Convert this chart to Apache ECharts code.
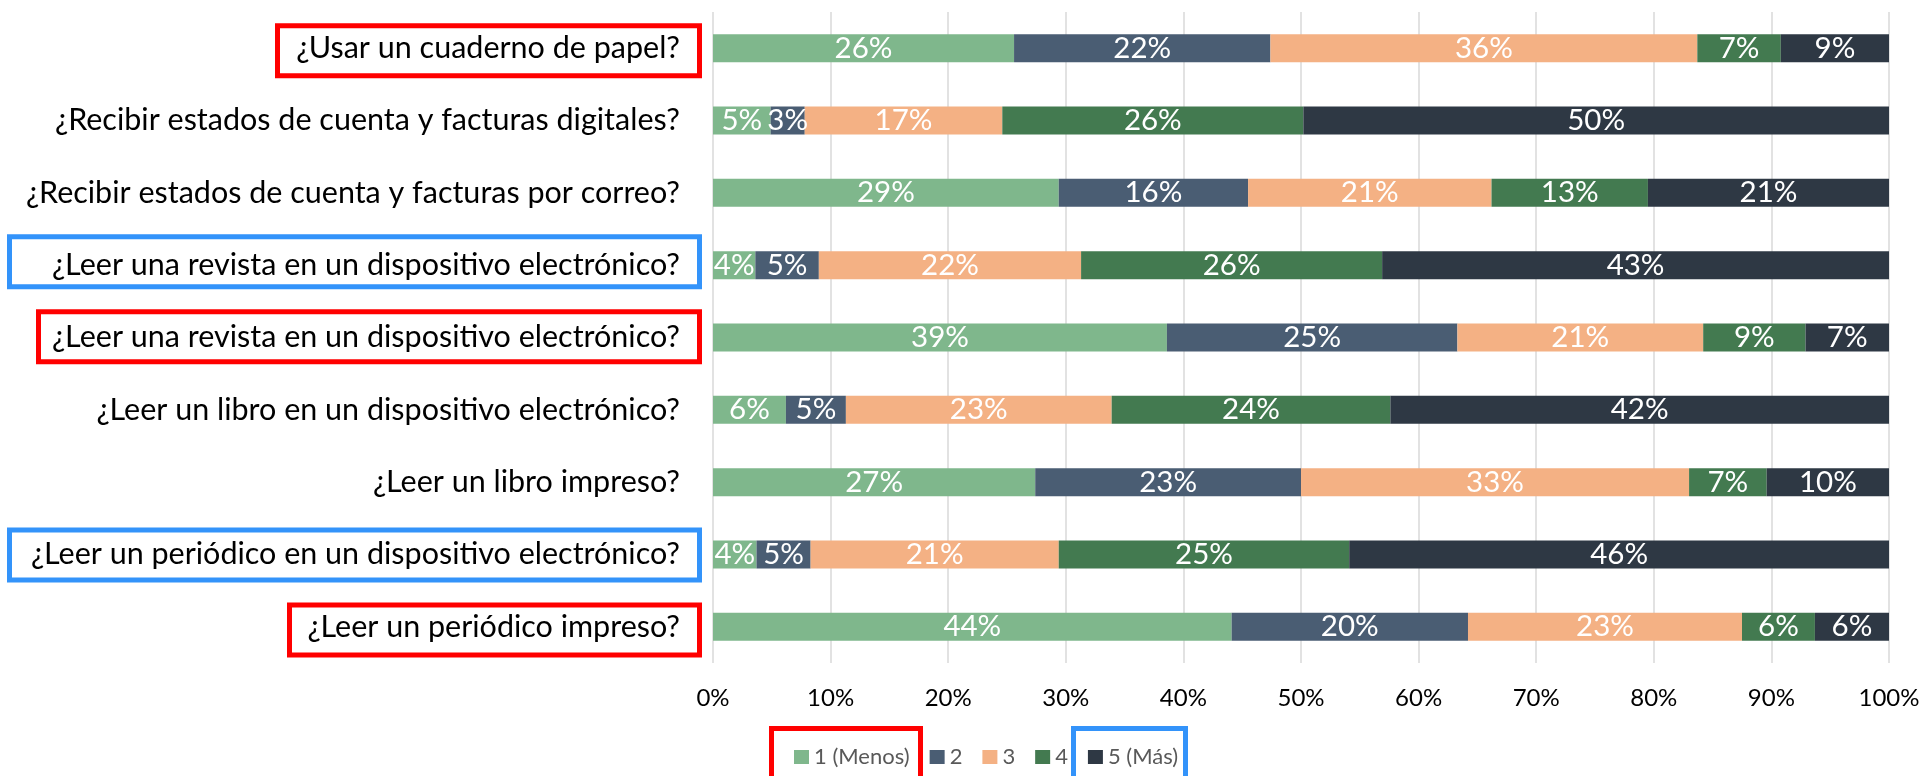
<!DOCTYPE html>
<html><head><meta charset="utf-8">
<script src="https://cdn.jsdelivr.net/npm/echarts@6/dist/echarts.min.js"></script>
<style>html,body{margin:0;padding:0;background:#fff}#c{width:1924px;height:776px}</style>
</head><body><div id="c"></div>
<script>
// Categories listed bottom -> top (as in the source spreadsheet)
const categories = [
  '¿Leer un periódico impreso?',
  '¿Leer un periódico en un dispositivo electrónico?',
  '¿Leer un libro impreso?',
  '¿Leer un libro en un dispositivo electrónico?',
  '¿Leer una revista en un dispositivo electrónico?',
  '¿Leer una revista en un dispositivo electrónico?',
  '¿Recibir estados de cuenta y facturas por correo?',
  '¿Recibir estados de cuenta y facturas digitales?',
  '¿Usar un cuaderno de papel?'
];
const seriesNames = ['1 (Menos)', '2', '3', '4', '5 (Más)'];
const s1 = [44.1, 3.7, 27.4, 6.2, 38.6, 3.6, 29.4, 4.9, 25.6];
const s2 = [20.1, 4.6, 22.6, 5.1, 24.7, 5.4, 16.1, 2.9, 21.8];
const s3 = [23.3, 21.1, 33.0, 22.6, 20.9, 22.3, 20.7, 16.8, 36.3];
const s4 = [6.2, 24.7, 6.6, 23.7, 8.7, 25.6, 13.3, 25.6, 7.1];
const s5 = [6.3, 45.9, 10.4, 42.4, 7.1, 43.1, 20.5, 49.8, 9.2];
const xTickLabels = ['0%', '10%', '20%', '30%', '40%', '50%', '60%', '70%', '80%', '90%', '100%'];
const colors = ['#7FB78C', '#4A5D73', '#F4B184', '#437A50', '#2E3844'];
// highlighted rows: category index -> box colour
const highlightRows = [
  { idx: 8, color: '#FF0000', x0: 275, x1: 702, dy: 2.5 },
  { idx: 5, color: '#3393FA', x0: 7, x1: 702, dy: -3.5 },
  { idx: 4, color: '#FF0000', x0: 36, x1: 702, dy: -0.7 },
  { idx: 1, color: '#3393FA', x0: 7, x1: 702, dy: 0.5 },
  { idx: 0, color: '#FF0000', x0: 287, x1: 702, dy: 3.2 }
];
const FONT = 'Lato';

const chart = echarts.init(document.getElementById('c'), null, { renderer: 'canvas' });
const allSeries = [s1, s2, s3, s4, s5];

const option = {
  animation: false,
  backgroundColor: '#ffffff',
  color: colors,
  grid: { left: 713, right: 35, top: 12, bottom: 113, containLabel: false },
  legend: {
    data: seriesNames,
    left: 789,
    top: 741,
    icon: 'rect',
    itemWidth: 15,
    itemHeight: 14,
    itemGap: 20,
    textStyle: { fontFamily: FONT, fontSize: 22, color: '#595959' }
  },
  xAxis: {
    type: 'value',
    min: 0, max: 100, interval: 10,
    axisLine: { show: false },
    axisTick: { show: false },
    splitLine: { show: true, lineStyle: { color: '#D9D9D9', width: 1.5 } },
    axisLabel: {
      margin: 23,
      color: '#000000',
      fontFamily: FONT,
      fontSize: 24,
      formatter: function (v) { return xTickLabels[Math.round(v / 10)]; }
    }
  },
  yAxis: {
    type: 'category',
    data: categories,
    axisLine: { show: false },
    axisTick: { show: false },
    axisLabel: {
      interval: 0,
      margin: 33,
      color: '#000000',
      fontFamily: FONT,
      fontSize: 30.5
    }
  },
  series: allSeries.map(function (d, i) {
    return {
      name: seriesNames[i],
      type: 'bar',
      stack: 'total',
      barWidth: 28,
      data: d,
      itemStyle: { color: colors[i] },
      label: {
        show: true,
        position: 'inside',
        color: '#ffffff',
        fontFamily: FONT,
        fontSize: 29.5,
        formatter: function (p) { return Math.round(p.value) + '%'; }
      }
    };
  })
};
chart.setOption(option);

const lw = 5;
const graphics = highlightRows.map(function (h) {
  const cy = chart.convertToPixel({ yAxisIndex: 0 }, h.idx) + h.dy;
  const hgt = 55;
  return {
    type: 'rect',
    silent: true,
    shape: { x: h.x0 + lw / 2, y: cy - hgt / 2 + lw / 2, width: h.x1 - h.x0 - lw, height: hgt - lw },
    style: { fill: null, stroke: h.color, lineWidth: lw }
  };
});
// legend highlight boxes (around "1 (Menos)" and "5 (Más)")
graphics.push({ type: 'rect', silent: true, shape: { x: 769 + lw / 2, y: 726 + lw / 2, width: 154 - lw, height: 80 }, style: { fill: null, stroke: '#FF0000', lineWidth: lw } });
graphics.push({ type: 'rect', silent: true, shape: { x: 1071 + lw / 2, y: 726 + lw / 2, width: 117 - lw, height: 80 }, style: { fill: null, stroke: '#3393FA', lineWidth: lw } });
chart.setOption({ graphic: graphics });
</script>
</body></html>
